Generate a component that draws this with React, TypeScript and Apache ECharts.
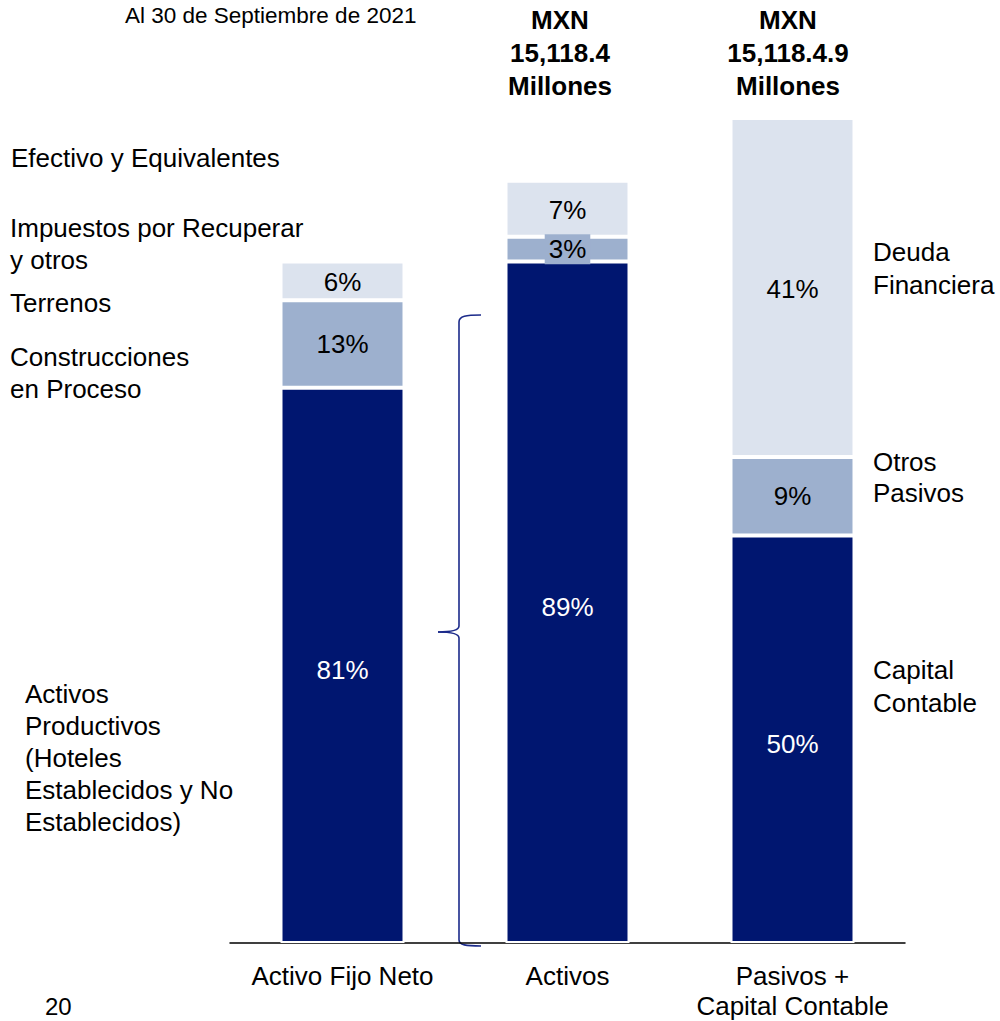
import React, { useEffect, useRef } from "react";
import * as echarts from "echarts";

// Categories (x axis)
const categories = ["Activo Fijo Neto", "Activos", "Pasivos +\nCapital Contable"];

// Segment heights (common scale, tallest bar = 100)
const baseHeights = [67.3, 82.6, 49.4];
const midHeights = [10.6, 3.0, 9.5];
const topHeights = [4.7, 6.8, 41.1];

// Percent labels shown in each segment
const basePct = ["81%", "89%", "50%"];
const midPct = ["13%", "3%", "9%"];
const topPct = ["6%", "7%", "41%"];

// Annotation texts
const titleText = "Al 30 de Septiembre de 2021";
const totalsText = ["MXN\n15,118.4\nMillones", "MXN\n15,118.4.9\nMillones"];
const leftLabels = [
  "Efectivo y Equivalentes",
  "Impuestos por Recuperar\ny otros",
  "Terrenos",
  "Construcciones\nen Proceso",
  "Activos\nProductivos\n(Hoteles\nEstablecidos y No\nEstablecidos)",
];
const rightLabels = ["Deuda\nFinanciera", "Otros\nPasivos", "Capital\nContable"];
const pageNumber = "20";

const DARK = "#001670";
const MID = "#9DB0CE";
const LIGHT = "#DCE3EE";
const BRACE = "#1B2A8A";
const FONT = "'Liberation Sans', Arial, sans-serif";

export default function App() {
  const ref = useRef<HTMLDivElement>(null);

  useEffect(() => {
    if (!ref.current) return;
    const chart = echarts.init(ref.current, undefined, { renderer: "svg" });

    const leftPos = [
      { x: 11, y: 158, lh: 32 },
      { x: 10, y: 244, lh: 32 },
      { x: 10, y: 303, lh: 32 },
      { x: 10, y: 373, lh: 32 },
      { x: 25, y: 758, lh: 32 },
    ];
    const rightPos = [
      { y: 268, lh: 33 },
      { y: 477, lh: 31 },
      { y: 686, lh: 33 },
    ];
    const totalsX = [560, 788];

    const textEl = (text: string, x: number, y: number, extra: any = {}) => ({
      type: "text",
      x,
      y,
      silent: true,
      style: {
        text,
        fill: "#000",
        fontSize: 26,
        fontFamily: FONT,
        align: "left",
        verticalAlign: "middle",
        ...extra,
      },
    });

    const braceStyle = { stroke: BRACE, lineWidth: 1.6, fill: "none" };

    const graphics: any[] = [
      textEl(titleText, 125, 15, { fontSize: 22.5 }),
      textEl(pageNumber, 45, 1006, { fontSize: 24 }),
      ...leftLabels.map((t, i) =>
        textEl(t, leftPos[i].x, leftPos[i].y, { lineHeight: leftPos[i].lh })
      ),
      ...rightLabels.map((t, i) =>
        textEl(t, 873, rightPos[i].y, { lineHeight: rightPos[i].lh })
      ),
      ...totalsText.map((t, i) =>
        textEl(t, totalsX[i], 53, {
          align: "center",
          fontWeight: "bold",
          lineHeight: 33,
        })
      ),
      // curly brace
      {
        type: "bezierCurve",
        silent: true,
        shape: { x1: 481, y1: 315, cpx1: 466, cpy1: 315, cpx2: 459, cpy2: 316, x2: 459, y2: 322 },
        style: braceStyle,
      },
      {
        type: "line",
        silent: true,
        shape: { x1: 459, y1: 322, x2: 459, y2: 626 },
        style: braceStyle,
      },
      {
        type: "bezierCurve",
        silent: true,
        shape: { x1: 459, y1: 626, cpx1: 459, cpy1: 631, cpx2: 447, cpy2: 632, x2: 438, y2: 632 },
        style: braceStyle,
      },
      {
        type: "bezierCurve",
        silent: true,
        shape: { x1: 438, y1: 632, cpx1: 447, cpy1: 632, cpx2: 459, cpy2: 633, x2: 459, y2: 638 },
        style: braceStyle,
      },
      {
        type: "line",
        silent: true,
        shape: { x1: 459, y1: 638, x2: 459, y2: 940 },
        style: braceStyle,
      },
      {
        type: "bezierCurve",
        silent: true,
        shape: { x1: 459, y1: 940, cpx1: 459, cpy1: 945, cpx2: 466, cpy2: 946, x2: 481, y2: 946 },
        style: braceStyle,
      },
    ];

    const labelBase = {
      show: true,
      position: "inside",
      fontSize: 26,
      fontFamily: FONT,
    };

    const option: any = {
      animation: false,
      backgroundColor: "#fff",
      grid: { left: 230, right: 95, top: 118, bottom: 76, containLabel: false },
      xAxis: {
        type: "category",
        data: categories,
        axisLine: { show: true, lineStyle: { color: "#000", width: 1.5 } },
        axisTick: { show: false },
        axisLabel: {
          color: "#000",
          fontSize: 26,
          fontFamily: FONT,
          lineHeight: 30,
          margin: 18,
          interval: 0,
        },
      },
      yAxis: {
        type: "value",
        min: 0,
        max: 100,
        show: false,
        splitLine: { show: false },
      },
      series: [
        {
          type: "bar",
          stack: "total",
          barWidth: 124,
          data: baseHeights,
          itemStyle: { color: DARK, borderColor: "#fff", borderWidth: 2 },
          label: {
            ...labelBase,
            color: "#fff",
            offset: [0, 5],
            formatter: (p: any) => basePct[p.dataIndex],
          },
        },
        {
          type: "bar",
          stack: "total",
          barWidth: 124,
          data: midHeights.map((v, i) =>
            i === 1
              ? { value: v, label: { backgroundColor: MID, padding: [3, 4, 1, 4] } }
              : v
          ),
          itemStyle: { color: MID, borderColor: "#fff", borderWidth: 2 },
          label: {
            ...labelBase,
            color: "#000",
            formatter: (p: any) => midPct[p.dataIndex],
          },
        },
        {
          type: "bar",
          stack: "total",
          barWidth: 124,
          data: topHeights,
          itemStyle: { color: LIGHT, borderColor: "#fff", borderWidth: 2 },
          label: {
            ...labelBase,
            color: "#000",
            offset: [0, 1],
            formatter: (p: any) => topPct[p.dataIndex],
          },
        },
      ],
      graphic: graphics,
    };

    chart.setOption(option);
    return () => chart.dispose();
  }, []);

  return (
    <div
      ref={ref}
      style={{ position: "fixed", left: 0, top: 0, width: 1000, height: 1021 }}
    />
  );
}
